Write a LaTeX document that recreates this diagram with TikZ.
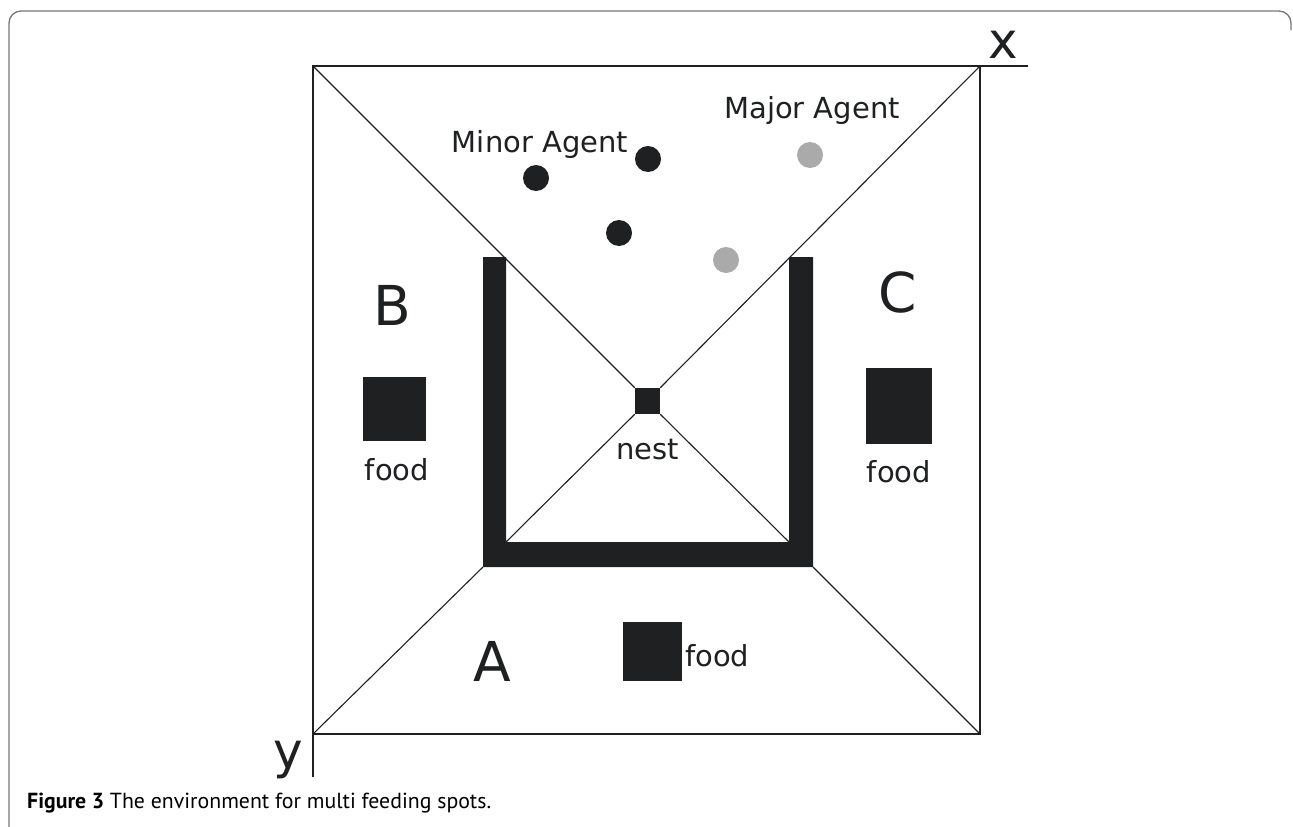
\documentclass[tikz,border=0pt]{standalone}
\usepackage{fontspec}
\setmainfont{DejaVu Sans}
\newfontfamily\capfont{PT Sans}
\definecolor{ink}{HTML}{1F2022}
\definecolor{agentgrey}{HTML}{AAAAAA}
\definecolor{framegrey}{HTML}{777777}
\begin{document}
\begin{tikzpicture}[x=1pt,y=-1pt,
  thinline/.style={draw=ink,line width=1.1pt},
  edgeline/.style={draw=ink,line width=1.6pt},
  foodbox/.style={fill=ink,draw=none,inner sep=0pt},
  agentdot/.style={circle,fill=ink,draw=none,inner sep=0pt,minimum size=26pt},
  majordot/.style={circle,fill=agentgrey,draw=none,inner sep=0pt,minimum size=26pt},
  lbl/.style={text=ink,font=\fontsize{29}{33}\selectfont,inner sep=0pt},
  region/.style={text=ink,font=\fontsize{55}{60}\selectfont,inner sep=0pt},
  axislbl/.style={text=ink,font=\fontsize{50}{55}\selectfont,inner sep=0pt}]
\useasboundingbox (0,0) rectangle (1293,827);
\fill[white] (0,0) rectangle (1293,827);
% outer frame
\draw[framegrey,line width=1.3pt,rounded corners=12pt] (9,840) -- (9,11) -- (1291,11) -- (1291,30);
% square corners
\coordinate (TL) at (313,66);
\coordinate (TR) at (980,66);
\coordinate (BL) at (313,734);
\coordinate (BR) at (980,734);
\coordinate (xend) at (1028,66);
\coordinate (yend) at (313,777);
% wall corners
\coordinate (UiL) at (506,542);
\coordinate (UiR) at (789,542);
\coordinate (UoL) at (483,567);
\coordinate (UoR) at (813,567);
% nest
\node[foodbox,minimum width=25pt,minimum height=26pt] (nest) at (647.5,401) {};
\node[lbl,anchor=base] (nestlbl) at (647.5,459) {nest};
% diagonals
\draw[thinline] (TL) -- (nest.north west);
\draw[thinline] (TR) -- (nest.north east);
\draw[thinline] (nest.south west) -- (UiL);
\draw[thinline] (nest.south east) -- (UiR);
\draw[thinline] (BL) -- (UoL);
\draw[thinline] (BR) -- (UoR);
% square and axes
\draw[edgeline] (TL) -- (TR) -- (BR) -- (BL) -- cycle;
\draw[edgeline] (TR) -- (xend);
\draw[edgeline] (BL) -- (yend);
\node[axislbl,anchor=base] (xlbl) at (1003,58) {x};
\node[axislbl,anchor=base] (ylbl) at (288,768) {y};
% U wall
\fill[ink] (483,257) -- (506,257) -- (UiL) -- (UiR) -- (789,257) -- (813,257) -- (UoR) -- (UoL) -- cycle;
% agents
\node[agentdot] (m1) at (536,178) {};
\node[agentdot] (m2) at (648,159) {};
\node[agentdot] (m3) at (619,233) {};
\node[majordot] (M1) at (810,155) {};
\node[majordot] (M2) at (726,260) {};
\node[lbl,anchor=base] (minorlbl) at (540,152) {Minor Agent};
\node[lbl,anchor=base] (majorlbl) at (812,118) {Major Agent};
% regions
\node[region,anchor=base] (B) at (392,325) {B};
\node[region,anchor=base] (C) at (898,312) {C};
\node[region,anchor=base] (A) at (492,681) {A};
% food
\node[foodbox,minimum width=63pt,minimum height=64pt] (foodB) at (394.5,409) {};
\node[lbl,anchor=base] (foodBl) at (397,480) {food};
\node[foodbox,minimum width=66pt,minimum height=76pt] (foodC) at (899,406) {};
\node[lbl,anchor=base] (foodCl) at (899,482) {food};
\node[foodbox,minimum width=59pt,minimum height=59pt] (foodA) at (652.5,651.5) {};
\node[lbl,anchor=base west] (foodAl) at (685,666) {food};
% caption
\node[anchor=base west,inner sep=0pt,text=black,font=\capfont\fontsize{21.8}{24}\selectfont] (cap) at (27,808) {\textbf{Figure 3} The environment for multi feeding spots.};
\end{tikzpicture}
\end{document}
